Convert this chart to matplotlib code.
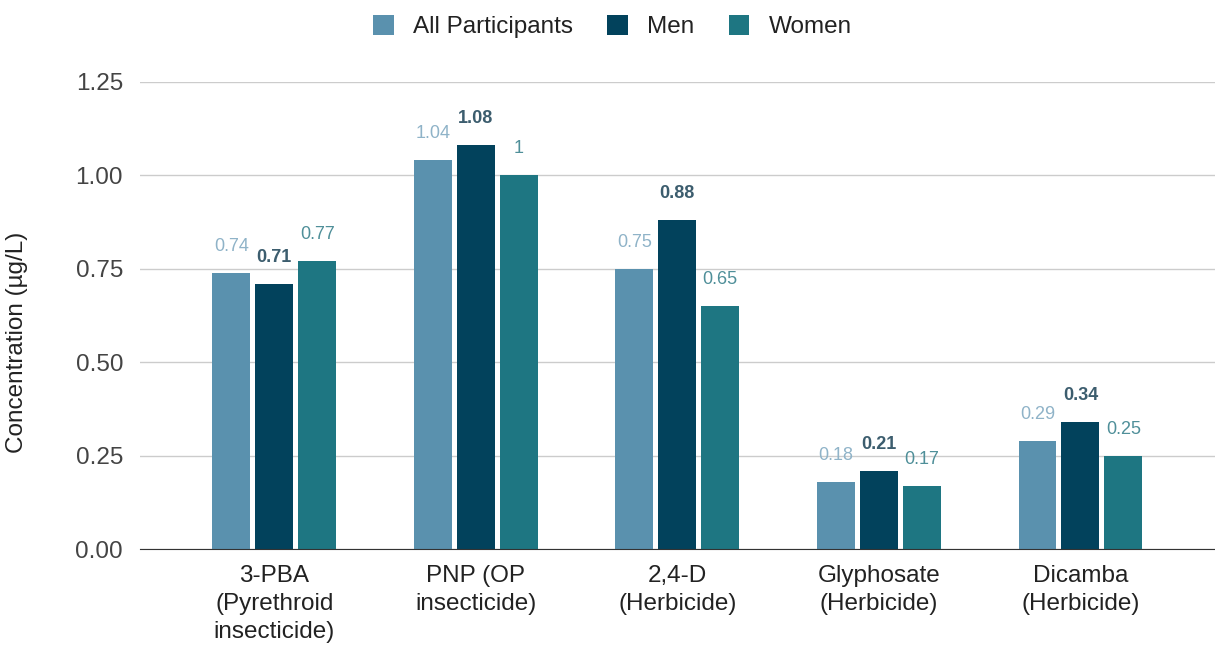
import matplotlib.pyplot as plt
import numpy as np

plt.rcParams['font.family'] = ['Liberation Sans', 'DejaVu Sans']

categories = ['3-PBA\n(Pyrethroid\ninsecticide)', 'PNP (OP\ninsecticide)', '2,4-D\n(Herbicide)',
              'Glyphosate\n(Herbicide)', 'Dicamba\n(Herbicide)']
all_participants = [0.74, 1.04, 0.75, 0.18, 0.29]
men = [0.71, 1.08, 0.88, 0.21, 0.34]
women = [0.77, 1.00, 0.65, 0.17, 0.25]
label_all = ['0.74', '1.04', '0.75', '0.18', '0.29']
label_men = ['0.71', '1.08', '0.88', '0.21', '0.34']
label_women = ['0.77', '1', '0.65', '0.17', '0.25']

series = [
    ('All Participants', all_participants, label_all, '#5a91ae', '#8fb3c8', 'normal'),
    ('Men', men, label_men, '#02425c', '#3c5d6e', 'bold'),
    ('Women', women, label_women, '#1e7682', '#4f8f99', 'normal'),
]

fig = plt.figure(figsize=(12.15, 6.5), dpi=100)
ax = fig.add_axes([0.115, 0.155, 0.885, 0.719])

x = np.arange(len(categories))
w = 0.188
step = 0.213
for i, (name, vals, labs, col, lcol, wt) in enumerate(series):
    pos = x + (i - 1) * step
    ax.bar(pos, vals, width=w, color=col, label=name, zorder=3)
    for p, v, t in zip(pos, vals, labs):
        ax.annotate(t, (p, v), xytext=(0, 13), textcoords='offset points',
                    ha='center', va='bottom', fontsize=13, color=lcol,
                    fontweight=wt, zorder=4)

ax.set_xlim(-0.668, 4.668)
ax.set_ylim(0, 1.25)
ax.set_yticks([0, 0.25, 0.5, 0.75, 1.0, 1.25])
ax.set_yticklabels(['0.00', '0.25', '0.50', '0.75', '1.00', '1.25'])
ax.yaxis.grid(True, color='#cccccc', linewidth=1, zorder=0)
ax.set_xticks(x)
ax.set_xticklabels(categories, fontsize=17.5, color='#222222', linespacing=1.38)
ax.tick_params(axis='y', labelsize=17.5, labelcolor='#444444', length=0, pad=12)
ax.tick_params(axis='x', length=0, pad=11)
for s in ['top', 'right', 'left']:
    ax.spines[s].set_visible(False)
ax.spines['bottom'].set_color('#333333')
ax.spines['bottom'].set_zorder(5)
ax.set_ylabel('Concentration (µg/L)', fontsize=17.5, color='#222222')
ax.yaxis.set_label_coords(-0.104, 0.443)

fig.legend(loc='upper center', bbox_to_anchor=(0.504, 1.01), ncol=3, frameon=False,
           fontsize=17.5, handlelength=0.85, handleheight=0.85, columnspacing=1.4, handletextpad=0.8,
           labelcolor='#222222')

fig.savefig('out.png', dpi=100)
